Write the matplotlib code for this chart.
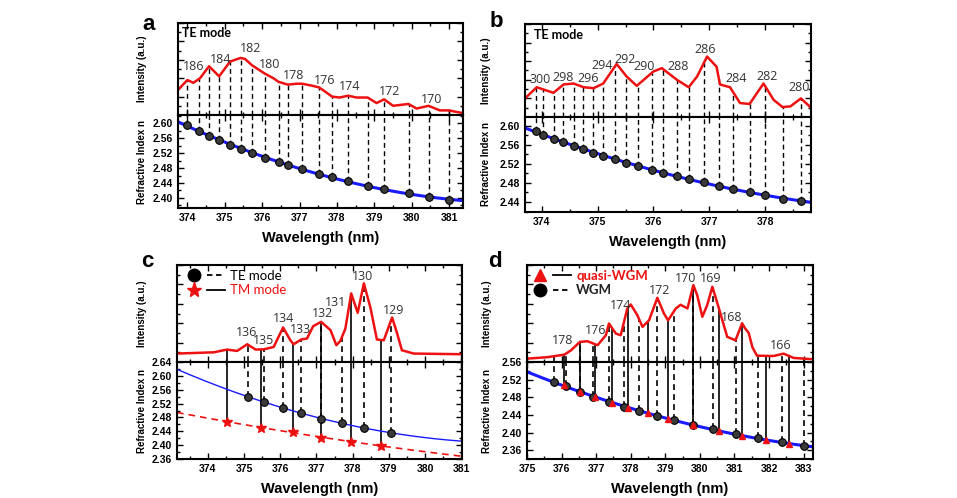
import numpy as np
import matplotlib
matplotlib.use('Agg')
import matplotlib.pyplot as plt
from matplotlib.lines import Line2D
from matplotlib.legend_handler import HandlerTuple
from matplotlib.ticker import MultipleLocator

plt.rcParams['font.family'] = ['Liberation Sans', 'DejaVu Sans']
plt.rcParams['font.weight'] = 'bold'
plt.rcParams['axes.labelweight'] = 'bold'
plt.rcParams['axes.linewidth'] = 1.5

# ---------------- Panel a data ----------------
a_wl = [374.00, 374.32, 374.58, 374.85, 375.14, 375.43, 375.73, 376.08, 376.44, 376.69,
        377.07, 377.52, 377.87, 378.30, 378.82, 379.26, 379.92, 380.45, 380.99]
a_n = [2.595, 2.580, 2.567, 2.554, 2.542, 2.531, 2.520, 2.507, 2.495, 2.487,
       2.477, 2.464, 2.455, 2.445, 2.433, 2.424, 2.412, 2.402, 2.394]
a_spec_wl = [373.75, 373.79, 374.00, 374.16, 374.34, 374.58, 374.85, 375.14, 375.42, 375.54,
             375.73, 376.07, 376.30, 376.44, 376.69, 376.92, 377.07, 377.32, 377.52, 377.63,
             377.87, 378.07, 378.30, 378.52, 378.82, 379.06, 379.26, 379.50, 379.91, 380.13,
             380.45, 380.75, 380.99, 381.37]
a_spec_I = [0.27, 0.29, 0.38, 0.35, 0.40, 0.53, 0.42, 0.58, 0.62, 0.61,
            0.54, 0.45, 0.40, 0.36, 0.33, 0.34, 0.34, 0.32, 0.30, 0.27,
            0.20, 0.19, 0.21, 0.19, 0.19, 0.13, 0.17, 0.10, 0.12, 0.07,
            0.10, 0.05, 0.05, 0.02]
a_labels = ['186', '184', '182', '180', '178', '176', '174', '172', '170']
a_label_wl = [374.16, 374.88, 375.69, 376.21, 376.84, 377.68, 378.35, 379.42, 380.53]
a_label_I = [0.525, 0.60, 0.725, 0.55, 0.424, 0.38, 0.31, 0.255, 0.17]

# ---------------- Panel b data ----------------
b_wl = [373.89, 374.03, 374.22, 374.38, 374.57, 374.73, 374.91, 375.10, 375.31, 375.50, 375.72,
        375.97, 376.17, 376.42, 376.64, 376.91, 377.17, 377.43, 377.72, 378.00, 378.31, 378.64]
b_n = [2.588, 2.581, 2.5725, 2.5655, 2.558, 2.551, 2.5436, 2.537, 2.5295, 2.522, 2.5154,
       2.507, 2.5013, 2.494, 2.4872, 2.481, 2.474, 2.4675, 2.461, 2.454, 2.447, 2.4414]
b_spec_wl = [373.70, 373.91, 374.21, 374.39, 374.57, 374.75, 374.93, 375.10, 375.34, 375.52,
             375.70, 376.00, 376.15, 376.42, 376.63, 376.78, 376.96, 377.13, 377.19, 377.37,
             377.55, 377.72, 377.97, 378.15, 378.31, 378.45, 378.64, 378.82]
b_spec_I = [0.20, 0.32, 0.26, 0.35, 0.36, 0.32, 0.31, 0.36, 0.57, 0.435,
            0.335, 0.49, 0.525, 0.40, 0.32, 0.435, 0.65, 0.54, 0.35, 0.32,
            0.15, 0.14, 0.36, 0.185, 0.107, 0.114, 0.20, 0.10]
b_labels = ['300', '298', '296', '294', '292', '290', '288', '286', '284', '282', '280']
b_label_wl = [373.97, 374.38, 374.84, 375.08, 375.49, 375.84, 376.44, 376.92, 377.48, 378.03, 378.61]
b_label_I = [0.40, 0.43, 0.41, 0.55, 0.62, 0.54, 0.54, 0.73, 0.41, 0.44, 0.32]

# ---------------- Panel c data ----------------
c_te_wl = [375.11, 375.56, 376.08, 376.58, 377.13, 377.72, 378.31, 379.06]
c_te_n = [2.540, 2.524, 2.507, 2.492, 2.476, 2.464, 2.450, 2.435]
c_tm_wl = [374.53, 375.48, 376.36, 377.14, 377.96, 378.78]
c_tm_n = [2.468, 2.450, 2.437, 2.422, 2.410, 2.398]
c_spec_wl = [373.15, 374.17, 374.53, 374.81, 375.09, 375.32, 375.55, 375.82, 376.08, 376.28,
             376.37, 376.58, 376.74, 376.91, 377.13, 377.39, 377.55, 377.66, 377.80, 377.96,
             378.14, 378.31, 378.49, 378.67, 378.86, 379.09, 379.23, 379.36, 379.69, 381.04]
c_spec_I = [0.087, 0.10, 0.128, 0.114, 0.183, 0.128, 0.131, 0.155, 0.356, 0.224,
            0.183, 0.232, 0.242, 0.369, 0.414, 0.328, 0.173, 0.217, 0.345, 0.707,
            0.507, 0.811, 0.562, 0.232, 0.224, 0.459, 0.293, 0.121, 0.087, 0.08]
c_labels = ['136', '135', '134', '133', '132', '131', '130', '129']
c_label_wl = [375.07, 375.55, 376.08, 376.56, 377.16, 377.52, 378.28, 379.13]
c_label_I = [0.30, 0.217, 0.449, 0.335, 0.50, 0.61, 0.886, 0.535]

# ---------------- Panel d data ----------------
d_wgm_wl = [375.79, 376.14, 376.53, 376.91, 377.37, 377.81, 378.24, 378.75, 379.25, 379.80,
            380.37, 381.05, 381.67, 382.37, 383.00]
d_wgm_n = [2.5147, 2.5047, 2.4926, 2.4811, 2.469, 2.459, 2.449, 2.4377, 2.4286, 2.4171,
           2.408, 2.3966, 2.3867, 2.3776, 2.3691]
d_q_wl = [376.06, 376.53, 376.96, 377.47, 377.92, 378.51, 379.09, 379.80, 380.55, 381.22,
          381.92, 382.59]
d_q_n = [2.507, 2.4926, 2.4804, 2.4667, 2.4553, 2.4439, 2.4309, 2.4171, 2.4041, 2.3927,
         2.3829, 2.3744]
d_spec_wl = [375.02, 375.60, 376.08, 376.27, 376.53, 376.75, 377.04, 377.28, 377.37, 377.57,
             377.71, 377.90, 378.00, 378.19, 378.34, 378.53, 378.77, 378.96, 379.08, 379.30,
             379.44, 379.64, 379.81, 379.92, 380.07, 380.21, 380.36, 380.55, 380.79, 381.03,
             381.22, 381.30, 381.41, 381.52, 381.65, 382.13, 382.42, 382.71, 383.27]
d_spec_I = [0.035, 0.05, 0.076, 0.12, 0.207, 0.214, 0.173, 0.276, 0.397, 0.293,
            0.276, 0.552, 0.593, 0.483, 0.362, 0.431, 0.662, 0.50, 0.43, 0.55,
            0.59, 0.552, 0.793, 0.69, 0.466, 0.586, 0.776, 0.552, 0.259, 0.224,
            0.40, 0.35, 0.30, 0.15, 0.065, 0.062, 0.086, 0.042, 0.028]
d_labels = ['178', '176', '174', '172', '170', '169', '168', '166']
d_label_wl = [376.03, 376.99, 377.71, 378.82, 379.59, 380.31, 380.93, 382.33]
d_label_I = [0.224, 0.328, 0.586, 0.741, 0.862, 0.862, 0.455, 0.173]

# ---------------- drawing ----------------
W, H = 957, 498
fig = plt.figure(figsize=(W / 100, H / 100), dpi=100)

RED = '#ee1111'
BLUE = '#1a1aff'
DASH = (0, (3.5, 2.5))


def px_axes(l, t, r, b):
    return fig.add_axes([l / W, 1 - b / H, (r - l) / W, (b - t) / H])


def style(ax, xlim):
    ax.set_xlim(xlim)
    ax.xaxis.set_major_locator(MultipleLocator(1))
    ax.xaxis.set_minor_locator(MultipleLocator(0.5))
    ax.tick_params(which='both', direction='in', top=True, right=True, width=1.0, labelsize=7.5)
    ax.tick_params(which='major', length=4)
    ax.tick_params(which='minor', length=2.5)


def top_axes(ax, xlim):
    style(ax, xlim)
    ax.set_ylim(0, 1)
    ax.yaxis.set_major_locator(MultipleLocator(0.2))
    ax.yaxis.set_minor_locator(MultipleLocator(0.1))
    ax.tick_params(labelleft=False, labelbottom=False)


def bot_axes(ax, xlim, ylim, ystep):
    style(ax, xlim)
    ax.set_ylim(ylim)
    ax.yaxis.set_major_locator(MultipleLocator(ystep))
    ax.yaxis.set_minor_locator(MultipleLocator(ystep / 2))
    ax.yaxis.set_major_formatter(matplotlib.ticker.FormatStrFormatter('%.2f'))


def mode_lines(axt, axb, wl, n, swl, sI, ls, lw=1.0):
    wl = np.asarray(wl)
    tops = np.interp(wl, swl, sI)
    axt.vlines(wl, 0, tops, colors='k', linestyles=[ls], lw=lw, zorder=1)
    axb.vlines(wl, n, axb.get_ylim()[1], colors='k', linestyles=[ls], lw=lw, zorder=1)


def fit_line(ax, wl, n, xlim, **kw):
    coef = np.polyfit(wl, n, 2)
    xs = np.linspace(xlim[0], xlim[1], 200)
    ax.plot(xs, np.polyval(coef, xs), **kw)


def labels(ax, txt, wl, I):
    for t, x, y in zip(txt, wl, I):
        ax.text(x, y, t, ha='center', va='center', fontsize=9, color='#333333',
                family='Open Sans', fontweight='normal')


def axis_labels(axt, axb, xpos):
    axt.set_ylabel('Intensity (a.u.)', fontsize=7)
    axb.set_ylabel('Refractive Index n', fontsize=7)
    axt.yaxis.set_label_coords(xpos, 0.5)
    axb.yaxis.set_label_coords(xpos, 0.5)
    axb.set_xlabel('Wavelength (nm)', fontsize=10.5, labelpad=6)


circle_kw = dict(marker='o', ls='none', ms=5.5, mfc='#3a3a3a', mec='k', mew=0.8, zorder=3)

# ---- a ----
xa = (373.75, 381.37)
at = px_axes(178, 23, 463, 115)
ab = px_axes(178, 115, 463, 208)
top_axes(at, xa)
bot_axes(ab, xa, (2.373, 2.622), 0.04)
mode_lines(at, ab, a_wl, a_n, a_spec_wl, a_spec_I, DASH)
at.plot(a_spec_wl, a_spec_I, color=RED, lw=1.8, zorder=2)
fit_line(ab, a_wl, a_n, xa, color=BLUE, lw=2.2, zorder=2)
ab.plot(a_wl, a_n, **circle_kw)
labels(at, a_labels, a_label_wl, a_label_I)
at.text(0.015, 0.96, 'TE mode', transform=at.transAxes, ha='left', va='top', fontsize=9,
        family='Lato', fontweight='bold')
axis_labels(at, ab, -0.11)

# ---- b ----
xb = (373.70, 378.82)
bt = px_axes(525, 24, 811, 117)
bb = px_axes(525, 117, 811, 212)
top_axes(bt, xb)
bot_axes(bb, xb, (2.419, 2.618), 0.04)
mode_lines(bt, bb, b_wl, b_n, b_spec_wl, b_spec_I, DASH)
bt.plot(b_spec_wl, b_spec_I, color=RED, lw=1.8, zorder=2)
fit_line(bb, b_wl, b_n, xb, color=BLUE, lw=2.2, zorder=2)
bb.plot(b_wl, b_n, **circle_kw)
labels(bt, b_labels, b_label_wl, b_label_I)
bt.text(0.03, 0.95, 'TE mode', transform=bt.transAxes, ha='left', va='top', fontsize=9,
        family='Lato', fontweight='bold')
axis_labels(bt, bb, -0.12)

# ---- c ----
xc = (373.15, 381.02)
ct = px_axes(177, 265, 462, 362)
cb = px_axes(177, 362, 462, 459)
top_axes(ct, xc)
bot_axes(cb, xc, (2.36, 2.64), 0.04)
mode_lines(ct, cb, c_te_wl, c_te_n, c_spec_wl, c_spec_I, DASH, lw=1.2)
mode_lines(ct, cb, c_tm_wl, c_tm_n, c_spec_wl, c_spec_I, '-', lw=1.2)
ct.plot(c_spec_wl, c_spec_I, color=RED, lw=1.8, zorder=2)
fit_line(cb, c_te_wl, c_te_n, xc, color=BLUE, lw=1.0, zorder=2)
fit_line(cb, c_tm_wl, c_tm_n, xc, color=RED, lw=1.2, ls=(0, (4, 3)), zorder=2)
cb.plot(c_te_wl, c_te_n, **circle_kw)
cb.plot(c_tm_wl, c_tm_n, marker='*', ls='none', ms=7, color=RED, zorder=3)
labels(ct, c_labels, c_label_wl, c_label_I)
axis_labels(ct, cb, -0.105)
hte = (Line2D([], [], marker='o', ls='none', ms=9, color='k'),
       Line2D([], [], color='k', ls=(0, (3, 2)), lw=1.3))
htm = (Line2D([], [], marker='*', ls='none', ms=11, color=RED),
       Line2D([], [], color='k', ls='-', lw=1.3))
leg = ct.legend([hte, htm], ['TE mode', 'TM mode'],
                handler_map={tuple: HandlerTuple(ndivide=None, pad=0.3)},
                loc='upper left', bbox_to_anchor=(0.03, 0.95), frameon=False,
                handlelength=3.0, handletextpad=0.4, labelspacing=0.2, borderpad=0,
                borderaxespad=0, prop={'family': 'Lato', 'size': 9.5, 'weight': 'normal'})
leg.get_texts()[1].set_color(RED)

# ---- d ----
xd = (375.0, 383.27)
dt = px_axes(527, 265, 813, 362)
db = px_axes(527, 362, 813, 459)
top_axes(dt, xd)
bot_axes(db, xd, (2.34, 2.56), 0.04)
mode_lines(dt, db, d_wgm_wl, d_wgm_n, d_spec_wl, d_spec_I, DASH, lw=1.2)
mode_lines(dt, db, d_q_wl, d_q_n, d_spec_wl, d_spec_I, '-', lw=1.2)
dt.plot(d_spec_wl, d_spec_I, color=RED, lw=1.8, zorder=2)
fit_line(db, d_wgm_wl, d_wgm_n, xd, color=BLUE, lw=2.2, zorder=2)
db.plot(d_wgm_wl, d_wgm_n, **circle_kw)
db.plot(d_q_wl, d_q_n, marker='^', ls='none', ms=4, color=RED, zorder=4)
labels(dt, d_labels, d_label_wl, d_label_I)
axis_labels(dt, db, -0.122)
hq = (Line2D([], [], marker='^', ls='none', ms=9, color=RED),
      Line2D([], [], color='k', ls='-', lw=1.3))
hw = (Line2D([], [], marker='o', ls='none', ms=9, color='k'),
      Line2D([], [], color='k', ls=(0, (3, 2)), lw=1.3))
leg2 = dt.legend([hq, hw], ['quasi-WGM', 'WGM'],
                 handler_map={tuple: HandlerTuple(ndivide=None, pad=0.3)},
                 loc='upper left', bbox_to_anchor=(0.015, 0.95), frameon=False,
                 handlelength=3.0, handletextpad=0.4, labelspacing=0.2, borderpad=0,
                 borderaxespad=0, prop={'family': 'Lato', 'size': 9.5, 'weight': 'bold'})
leg2.get_texts()[0].set_color(RED)
leg2.get_texts()[1].set_color('#222222')

# panel letters
for letter, x, y in [('a', 149, 30), ('b', 496, 27), ('c', 147, 267), ('d', 495, 267)]:
    fig.text(x / W, 1 - y / H, letter, ha='center', va='baseline', fontsize=16, fontweight='bold')

fig.savefig('out.png', dpi=100)
